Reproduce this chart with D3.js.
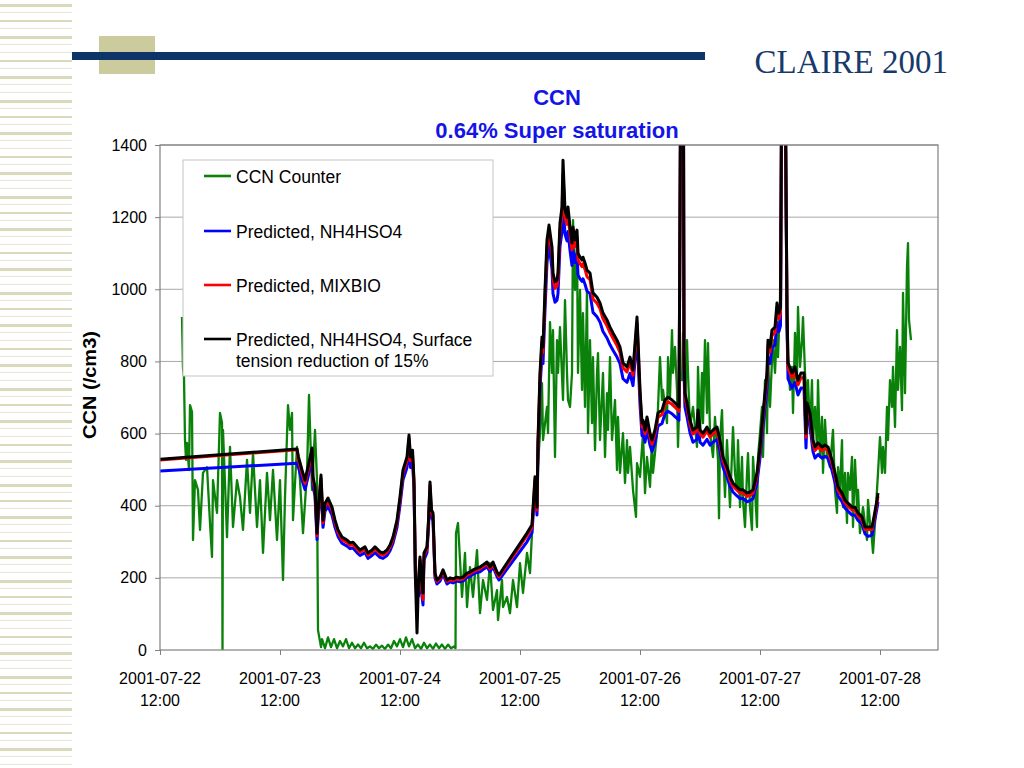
<!DOCTYPE html>
<html lang="en">
<head>
<meta charset="UTF-8" />
<title>CLAIRE 2001 - CCN 0.64% Super saturation</title>
<script src="https://d3js.org/d3.v7.min.js"></script>
<style>
  html, body { margin: 0; padding: 0; background: #fff; }
  svg { display: block; }
  text { font-family: "Liberation Sans", Arial, sans-serif; }
</style>
</head>
<body>
<div id="chart"></div>
<script>
// hours after 2001-07-22 12:00
const tickHours = [0, 24, 48, 72, 96, 120, 144];
const yTicks = [0, 200, 400, 600, 800, 1000, 1200, 1400];
const seriesNames = ["CCN Counter", "Predicted, NH4HSO4", "Predicted, MIXBIO",
  ["Predicted, NH4HSO4, Surface", "tension reduction of 15%"]];

// CCN counter measurements
const ccnHours = [
  4.4,4.6,4.8,5.0,5.2,5.4,5.8,6.0,6.4,6.6,
  7.0,7.6,8.0,8.6,9.4,10.0,10.4,10.6,11.4,12.0,
  12.4,12.5,12.6,13.4,14.0,14.6,15.4,16.0,16.6,17.4,
  18.0,18.6,19.4,20.0,20.6,21.4,22.0,22.6,23.4,24.0,
  24.6,25.0,25.6,26.0,26.4,26.6,27.4,28.0,28.6,29.4,
  29.8,30.4,31.0,31.4,31.6,32.2,32.4,33.0,33.6,34.2,
  34.8,35.4,36.0,36.6,37.2,37.8,38.4,39.0,39.6,40.2,
  40.8,41.4,42.0,42.6,43.2,43.8,44.4,45.0,45.6,46.2,
  46.8,47.4,48.0,48.6,49.2,49.8,50.4,51.0,51.6,52.2,
  52.8,53.4,54.0,54.6,55.2,55.8,56.4,57.0,57.6,58.2,
  58.8,59.1,59.2,59.6,60.4,61.0,61.4,62.0,62.6,63.4,
  64.0,64.6,65.4,66.0,66.6,67.4,67.6,68.4,68.6,69.4,
  70.0,70.6,71.4,72.0,72.6,73.4,74.0,74.6,75.4,76.0,
  76.4,76.6,77.4,77.6,78.0,78.4,78.6,79.0,79.4,79.6,
  80.0,80.6,81.0,81.4,81.6,82.0,82.4,82.6,83.0,83.4,
  83.6,84.0,84.4,84.6,85.0,85.4,85.6,86.0,86.4,86.6,
  87.0,87.4,87.6,88.0,88.6,89.0,89.4,89.6,90.0,90.4,
  91.0,91.4,91.6,92.0,92.6,93.0,93.4,93.6,94.0,94.6,
  95.2,95.4,96.0,96.6,97.0,97.4,98.0,98.4,98.6,99.4,
  100.0,100.4,100.6,101.4,101.6,102.0,102.4,102.6,103.0,103.4,
  103.6,104.0,104.4,104.6,105.0,105.4,105.6,106.0,106.6,107.4,
  107.6,108.0,108.4,108.6,109.0,109.4,109.6,110.0,110.6,111.0,
  111.6,111.8,112.0,112.4,112.6,113.0,113.4,114.0,114.6,115.0,
  115.4,115.6,116.0,116.4,116.6,117.0,117.4,117.6,118.0,118.4,
  118.6,119.0,119.4,119.6,120.0,120.4,120.6,121.0,121.4,121.6,
  122.0,122.4,122.6,123.0,123.4,123.6,124.0,124.4,125.0,125.4,
  125.6,126.0,126.4,126.6,127.0,127.4,127.6,128.0,128.4,128.6,
  129.0,129.4,129.6,130.0,130.4,130.6,131.0,131.4,131.6,132.0,
  132.4,132.6,133.0,133.4,134.0,134.6,135.0,135.4,135.6,136.0,
  136.4,136.6,137.0,137.4,137.6,138.0,138.4,138.6,139.0,139.4,
  139.6,140.0,140.6,141.4,141.6,142.0,142.4,142.6,143.0,143.4,
  143.6,144.0,144.4,144.6,145.0,145.4,145.6,146.0,146.4,146.6,
  147.0,147.4,147.6,148.0,148.4,148.6,149.0,149.4,149.6,149.8,
  150.2
];
const ccnValues = [
  923,780,757,582,527,574,499,679,660,305,
  471,444,333,491,507,352,258,471,380,657,
  630,0,610,313,563,341,471,424,333,527,
  380,546,341,471,269,491,360,499,305,471,
  194,424,679,610,657,360,563,471,324,491,
  707,444,610,471,55,8,30,5,35,8,
  30,5,25,10,30,5,20,5,15,5,
  20,5,10,3,15,5,12,3,15,5,
  25,10,30,8,35,10,30,5,15,3,
  20,5,15,3,18,5,15,3,15,5,
  10,5,324,352,147,269,119,230,147,277,
  102,194,139,241,111,166,83,194,119,147,
  102,194,119,241,158,269,213,380,471,601,
  740,582,674,601,909,768,887,535,859,768,
  895,693,970,768,693,674,768,1192,998,1137,
  768,998,721,934,674,998,601,859,629,812,
  554,768,823,582,768,535,712,610,812,582,
  693,499,646,491,601,463,582,491,563,444,
  369,518,480,601,435,535,452,582,491,601,
  812,693,721,629,812,701,887,768,840,721,
  563,768,748,879,674,859,768,618,674,563,
  785,601,768,629,859,657,851,601,535,646,
  527,365,582,665,563,424,582,396,618,491,
  444,582,396,535,416,341,491,546,396,333,
  535,444,341,535,601,674,535,748,601,812,
  674,804,859,768,895,812,970,1460,1460,859,
  812,721,785,657,879,768,951,785,859,923,
  768,674,748,601,748,582,674,563,748,535,
  646,491,638,535,507,610,444,380,507,444,
  582,396,491,352,491,444,535,341,527,396,
  444,324,396,305,416,352,305,269,352,444,
  491,590,491,563,491,674,582,748,674,785,
  618,887,721,840,665,990,712,1062,1128,915,
  859
];

// model predictions share one time base
const predHours = [
  0,27.4,27.7,28.4,29.0,29.6,30.4,30.6,31.0,31.4,
  31.6,32.2,32.6,33.0,33.6,34.4,35.0,35.6,36.4,37.4,
  38.0,38.6,39.4,40.0,41.0,41.6,42.4,43.0,44.0,44.6,
  45.4,46.0,46.6,47.4,48.0,48.6,49.4,49.8,50.1,50.5,
  50.8,51.1,51.4,51.7,52.0,52.3,52.6,52.8,53.4,53.7,
  54.0,54.3,54.6,55.0,55.4,56.0,56.6,57.4,58.0,58.6,
  59.4,60.0,60.6,61.4,62.0,62.6,63.4,64.0,64.6,65.4,
  66.0,66.6,67.4,67.8,73.4,74.4,75.0,75.4,75.6,76.0,
  76.4,76.6,77.0,77.4,77.8,78.4,78.6,79.0,79.4,79.6,
  80.0,80.4,80.6,81.0,81.4,81.6,82.0,82.4,82.6,83.0,
  83.4,83.6,84.0,84.4,84.6,85.0,85.4,86.0,86.6,87.4,
  88.0,88.6,89.4,90.0,90.6,91.4,92.0,92.6,93.4,94.0,
  94.6,95.4,95.6,96.0,96.4,96.6,97.0,97.4,98.0,98.4,
  99.0,99.6,100.4,101.0,101.6,102.4,103.0,103.8,104.1,104.7,
  104.8,105.0,105.4,106.0,106.6,107.4,107.6,108.0,108.6,109.4,
  110.0,110.6,111.4,112.0,112.6,113.4,114.0,114.6,115.4,116.0,
  116.6,117.4,118.0,118.6,119.4,120.0,120.6,121.4,121.6,122.0,
  122.4,123.0,123.4,123.8,124.1,124.3,125.1,125.4,125.6,126.4,
  127.0,127.6,128.2,128.8,129.2,129.4,130.0,130.6,131.0,131.6,
  132.4,133.0,133.6,134.4,135.0,135.6,136.4,137.0,137.6,138.4,
  139.0,139.6,140.4,141.0,141.6,142.4,142.8,143.4,143.6
];
const nh4hso4Values = [
  496,518,506,472,445,479,529,454,427,306,
  359,458,340,385,398,374,340,315,296,288,
  281,283,270,262,270,254,262,270,257,254,
  262,275,296,340,401,472,506,563,506,524,
  445,190,170,150,235,160,125,250,270,340,
  440,367,359,200,183,191,210,183,189,186,
  191,189,191,201,204,210,215,217,223,231,
  217,231,204,194,300,325,454,374,550,726,
  820,794,943,1074,1125,1056,988,964,970,988,
  1119,1160,1230,1153,1134,1160,1108,1066,1108,1074,
  1100,1040,1029,1022,1029,1014,995,988,936,924,
  909,883,865,846,831,812,794,752,742,767,
  733,872,812,681,594,602,576,610,568,550,
  576,621,628,655,662,655,647,637,1480,1480,
  767,673,647,602,576,584,628,576,568,584,
  568,576,584,550,506,479,454,438,427,420,
  420,411,414,420,464,532,621,726,812,794,
  838,846,909,883,899,1480,1480,899,752,726,
  742,707,726,726,560,647,621,550,532,542,
  532,537,532,498,464,427,411,393,385,374,
  374,359,349,322,315,318,349,393,411
];
const mixbioValues = [
  527,555,525,489,462,497,550,471,443,317,
  372,476,353,399,413,388,353,326,306,298,
  290,292,280,271,280,263,271,280,266,263,
  271,285,306,353,416,489,525,585,525,544,
  462,190,140,175,250,180,140,262,280,353,
  457,380,372,208,190,197,217,190,195,192,
  197,195,197,208,211,217,222,225,231,238,
  225,238,211,203,317,340,471,388,571,755,
  853,825,981,1118,1158,1098,1027,1003,1009,1027,
  1164,1208,1320,1200,1180,1208,1153,1109,1153,1118,
  1145,1081,1071,1063,1071,1055,1035,1027,973,961,
  946,918,899,880,864,844,825,782,771,798,
  762,907,844,708,618,625,599,634,590,571,
  599,645,653,681,688,681,673,662,1480,1480,
  798,699,673,625,599,607,653,599,590,607,
  590,599,607,571,525,497,471,454,443,435,
  435,426,429,435,482,553,645,755,844,825,
  872,880,946,918,935,1480,1480,935,782,755,
  771,735,755,755,590,673,645,571,553,563,
  553,558,553,517,482,443,426,408,399,388,
  388,372,361,334,334,334,361,408,426
];
const surfTensionValues = [
  529,557,535,499,471,507,560,480,452,324,
  380,485,360,407,421,396,360,333,313,305,
  297,299,286,277,286,269,277,286,272,269,
  277,291,313,360,424,499,535,596,535,554,
  471,194,47,194,258,194,158,269,286,360,
  466,388,380,213,194,202,222,194,200,197,
  202,200,202,213,216,222,227,230,236,244,
  230,244,216,208,324,347,480,396,582,768,
  868,840,998,1137,1178,1117,1045,1020,1026,1045,
  1184,1228,1358,1220,1200,1228,1173,1128,1173,1137,
  1164,1100,1089,1081,1089,1073,1053,1045,990,978,
  962,934,915,895,879,859,840,796,785,812,
  776,923,859,721,629,637,610,646,601,582,
  610,657,665,693,701,693,685,674,1480,1480,
  812,712,685,637,610,618,665,610,601,618,
  601,610,618,582,535,507,480,463,452,444,
  444,435,438,444,491,563,657,768,859,840,
  887,895,962,934,951,1480,1480,951,796,768,
  785,748,768,768,601,685,657,582,563,574,
  563,568,563,527,491,452,435,416,407,396,
  396,380,369,341,341,341,369,416,435
];

const W = 1024, H = 768;
const plot = { left: 160, right: 938, top: 145, bottom: 650 };
const start = new Date(2001, 6, 22, 12, 0);
const toDate = h => new Date(start.getTime() + h * 3600e3);

const svg = d3.select("#chart").append("svg")
  .attr("width", W).attr("height", H)
  .attr("viewBox", [0, 0, W, H]);

svg.append("rect").attr("width", W).attr("height", H).attr("fill", "#fff");

// slide decoration: striped left band
const stripeH = [3, 1, 2, 1, 3, 1, 1, 2, 1, 3, 1, 1];
for (let i = 0, yy = 4; yy < H; i++, yy += 8) {
  const h = stripeH[i % stripeH.length];
  svg.append("rect")
    .attr("x", 0).attr("y", yy).attr("width", 72).attr("height", h)
    .attr("fill", h > 1 ? "#dbd9bc" : "#e9e8d7");
}
// header bar with square
svg.append("rect").attr("x", 99).attr("y", 36).attr("width", 56).attr("height", 38).attr("fill", "#cccb9e");
svg.append("rect").attr("x", 72).attr("y", 52).attr("width", 633).attr("height", 8).attr("fill", "#0d3567");
svg.append("text")
  .attr("x", 948).attr("y", 73)
  .attr("text-anchor", "end")
  .style("font-family", "'Liberation Serif', 'Times New Roman', serif")
  .attr("font-size", 33)
  .attr("fill", "#173a6b")
  .text("CLAIRE 2001");

// chart title
const title = svg.append("text")
  .attr("text-anchor", "middle")
  .attr("font-weight", "bold")
  .attr("font-size", 22)
  .attr("fill", "#1414e6");
title.append("tspan").attr("x", 557).attr("y", 105).text("CCN");
title.append("tspan").attr("x", 557).attr("y", 138).text("0.64% Super saturation");

const x = d3.scaleTime()
  .domain([start, toDate(155.6)])
  .range([plot.left, plot.right]);
const y = d3.scaleLinear()
  .domain([0, 1400])
  .range([plot.bottom, plot.top]);

// gridlines
svg.append("g")
  .selectAll("line")
  .data(yTicks.filter(d => d > 0))
  .join("line")
  .attr("x1", plot.left).attr("x2", plot.right)
  .attr("y1", d => y(d)).attr("y2", d => y(d))
  .attr("stroke", "#a8a8a8").attr("stroke-width", 1);

// axes
const yAxis = svg.append("g")
  .attr("transform", `translate(${plot.left},0)`)
  .call(d3.axisLeft(y).tickValues(yTicks).tickFormat(d3.format("d")).tickSize(5).tickPadding(8));
yAxis.select(".domain").remove();
yAxis.selectAll(".tick line").attr("stroke", "#808080");
yAxis.selectAll(".tick text")
  .attr("font-size", 16).attr("fill", "#000")
  .style("font-family", "'Liberation Sans', Arial, sans-serif");

const xAxis = svg.append("g")
  .attr("transform", `translate(0,${plot.bottom})`)
  .call(d3.axisBottom(x).tickValues(tickHours.map(toDate)).tickSize(5).tickFormat(""));
xAxis.select(".domain").remove();
xAxis.selectAll(".tick line").attr("stroke", "#808080");

const fmtDay = d3.timeFormat("%Y-%m-%d"), fmtTime = d3.timeFormat("%H:%M");
const xLabels = svg.append("g")
  .selectAll("text")
  .data(tickHours.map(toDate))
  .join("text")
  .attr("text-anchor", "middle")
  .attr("font-size", 16)
  .attr("fill", "#000");
xLabels.append("tspan").attr("x", d => x(d)).attr("y", 684).text(d => fmtDay(d));
xLabels.append("tspan").attr("x", d => x(d)).attr("y", 706).text(d => fmtTime(d));

// y axis title
svg.append("text")
  .attr("transform", "translate(96,385) rotate(-90)")
  .attr("text-anchor", "middle")
  .attr("font-weight", "bold")
  .attr("font-size", 18)
  .attr("textLength", 108)
  .attr("lengthAdjust", "spacingAndGlyphs")
  .attr("fill", "#000")
  .text("CCN (/cm3)");

// series
svg.append("clipPath").attr("id", "plot-clip")
  .append("rect")
  .attr("x", plot.left).attr("y", plot.top)
  .attr("width", plot.right - plot.left).attr("height", plot.bottom - plot.top);

const line = d3.line().x(d => x(toDate(d[0]))).y(d => y(d[1]));
const series = [
  { pts: d3.zip(ccnHours, ccnValues), color: "#0a820a", width: 2.3 },
  { pts: d3.zip(predHours, nh4hso4Values), color: "#0000ff", width: 3 },
  { pts: d3.zip(predHours, mixbioValues), color: "#ff0000", width: 3 },
  { pts: d3.zip(predHours, surfTensionValues), color: "#000000", width: 3 }
];
const lines = svg.append("g").attr("clip-path", "url(#plot-clip)");
lines.selectAll("path")
  .data(series)
  .join("path")
  .attr("d", d => line(d.pts))
  .attr("fill", "none")
  .attr("stroke", d => d.color)
  .attr("stroke-width", d => d.width)
  .attr("stroke-linejoin", "round");

// plot frame
svg.append("rect")
  .attr("x", plot.left).attr("y", plot.top)
  .attr("width", plot.right - plot.left).attr("height", plot.bottom - plot.top)
  .attr("fill", "none").attr("stroke", "#808080").attr("stroke-width", 1.2);

// legend
const legend = svg.append("g");
legend.append("rect")
  .attr("x", 183).attr("y", 160).attr("width", 310).attr("height", 216)
  .attr("fill", "#fff").attr("stroke", "#c4c4c4");
const legendY = [176, 231, 285, 339];
seriesNames.forEach((name, i) => {
  legend.append("line")
    .attr("x1", 204).attr("x2", 231)
    .attr("y1", legendY[i]).attr("y2", legendY[i])
    .attr("stroke", series[i].color).attr("stroke-width", 2.6);
  const t = legend.append("text")
    .attr("font-size", 17.5).attr("fill", "#000");
  const rows = Array.isArray(name) ? name : [name];
  rows.forEach((r, j) => {
    t.append("tspan").attr("x", 236).attr("y", legendY[i] + 7 + j * 21).text(r);
  });
});
</script>
</body>
</html>
